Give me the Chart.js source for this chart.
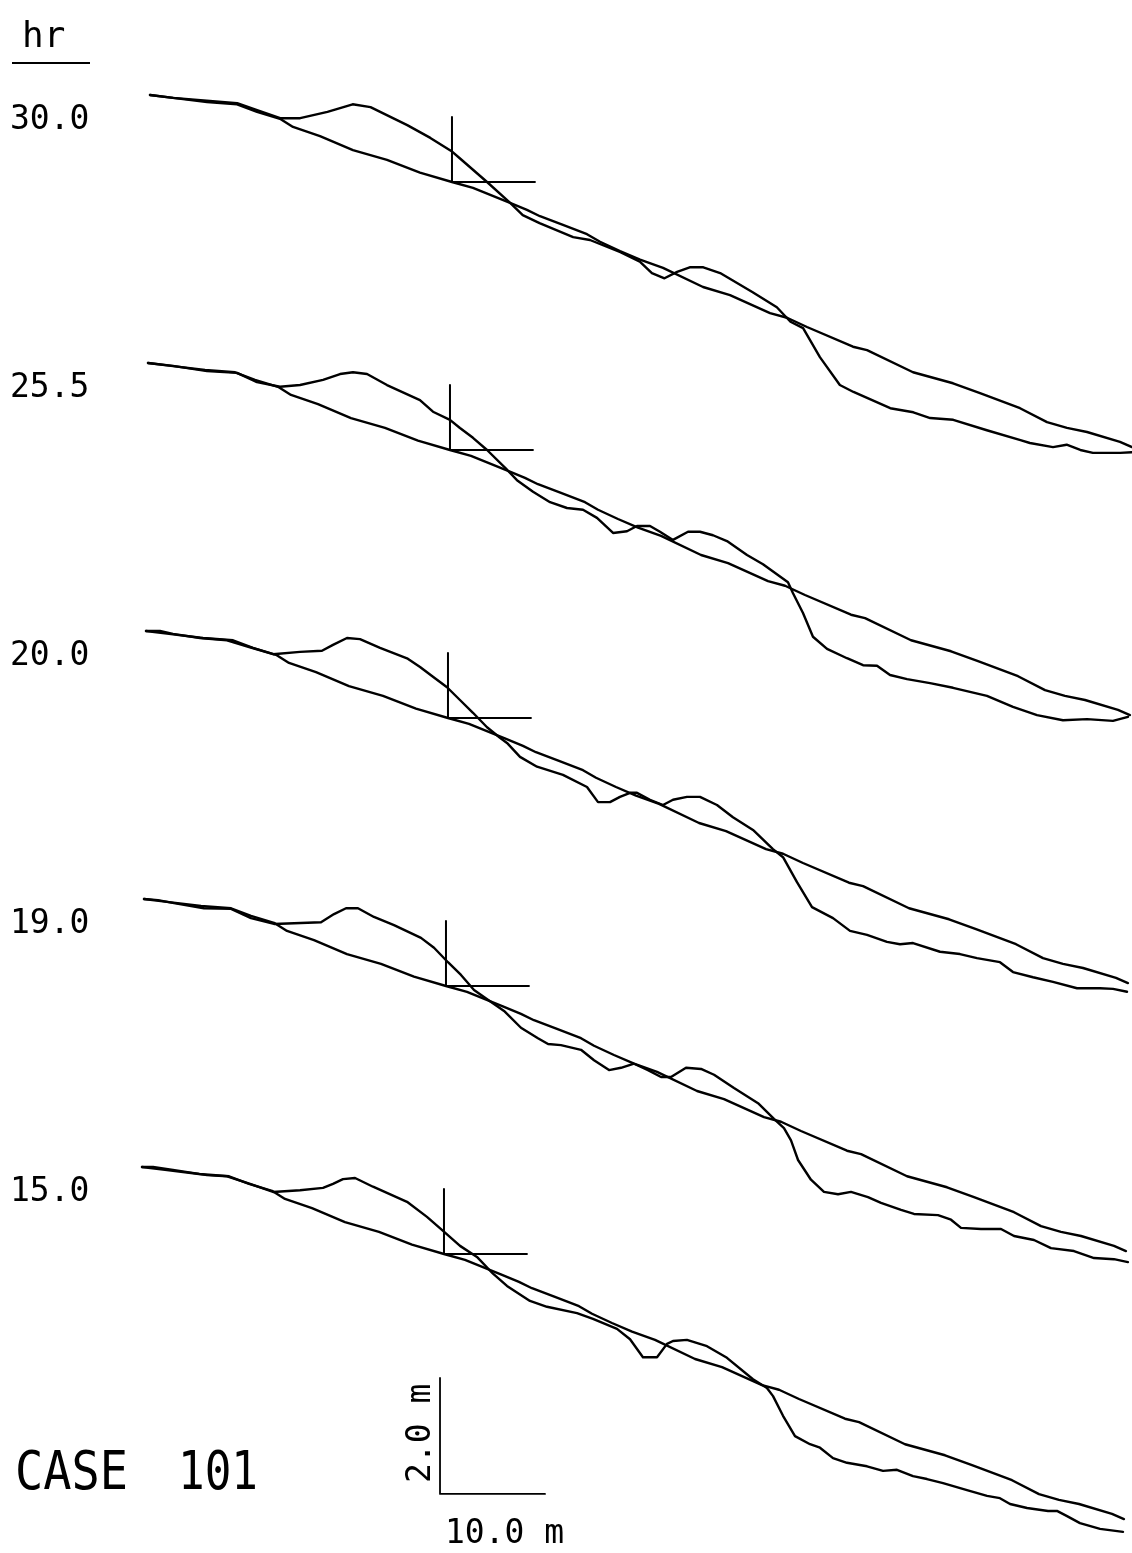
<!DOCTYPE html>
<html>
<head>
<meta charset="utf-8">
<title>CASE 101 profiles</title>
<script src="https://cdn.jsdelivr.net/npm/chart.js@4/dist/chart.umd.min.js"></script>
<style>
  html, body { margin: 0; padding: 0; background: #fff; }
  canvas { display: block; }
</style>
</head>
<body>
<canvas id="profileChart" width="1132" height="1553"></canvas>
<script>
'use strict';

// elapsed time for each plotted profile (top to bottom)
const hours = ['30.0', '25.5', '20.0', '19.0', '15.0'];

// initial beach profile: [distance m, elevation m] relative to landward end
const initialProfile = [
  [0, 0], [2.19, -0.05], [5.43, -0.12], [8.29, -0.16], [10.19, -0.29], [12.38, -0.41],
  [13.62, -0.55], [16.19, -0.71], [19.33, -0.95], [22.57, -1.12], [25.71, -1.34], [28.76, -1.50],
  [30.76, -1.60], [34.29, -1.86], [35.90, -1.98], [37.14, -2.09], [39.33, -2.24], [41.62, -2.40],
  [42.86, -2.53], [44.76, -2.69], [46.67, -2.84], [48.86, -2.98], [52.67, -3.31], [55.24, -3.45],
  [59.05, -3.76], [60.67, -3.84], [62.57, -4.00], [66.95, -4.34], [68.29, -4.40], [72.67, -4.78],
  [76.48, -4.97], [79.05, -5.14], [82.86, -5.40], [85.43, -5.64], [87.33, -5.74], [89.24, -5.81],
  [92.38, -5.98], [93.52, -6.07]
];

// measured profiles
const profile30 = [
  [0, 0], [2.2, -0.05], [5.4, -0.10], [8.3, -0.14], [10.2, -0.26], [12.4, -0.40], [14.3, -0.40],
  [16.9, -0.29], [19.3, -0.16], [21.0, -0.21], [24.5, -0.52], [26.7, -0.74], [28.8, -0.98],
  [29.5, -1.09], [32.1, -1.50], [34.3, -1.86], [35.5, -2.07], [37.1, -2.21], [40.3, -2.45],
  [41.9, -2.50], [44.8, -2.71], [46.7, -2.88], [47.8, -3.07], [49.0, -3.16], [50.2, -3.05],
  [51.4, -2.97], [52.7, -2.97], [54.3, -3.07], [57.4, -3.40], [59.7, -3.66], [61.0, -3.91],
  [62.2, -4.02], [63.8, -4.52], [65.7, -5.00], [67.0, -5.12], [70.5, -5.40], [72.7, -5.47],
  [74.3, -5.57], [76.5, -5.60], [79.7, -5.78], [82.9, -5.95], [83.8, -6.00], [86.0, -6.07],
  [87.3, -6.03], [88.6, -6.12], [89.8, -6.17], [92.4, -6.17], [93.5, -6.16]
];

const profile25 = [
  [0, 0], [2.38, -0.05], [5.62, -0.14], [8.48, -0.17], [10.38, -0.33], [12.57, -0.41], [14.48, -0.38],
  [16.67, -0.29], [18.29, -0.19], [19.52, -0.16], [20.86, -0.19], [22.76, -0.38], [25.90, -0.64],
  [27.14, -0.84], [28.76, -0.98], [29.71, -1.12], [30.95, -1.29], [32.29, -1.50], [34.19, -1.84],
  [35.14, -2.02], [36.67, -2.22], [38.29, -2.40], [39.90, -2.50], [41.43, -2.53], [42.76, -2.67],
  [44.29, -2.93], [45.62, -2.90], [46.57, -2.81], [47.81, -2.81], [48.76, -2.91], [50.00, -3.05],
  [51.43, -2.91], [52.57, -2.91], [53.81, -2.97], [55.14, -3.07], [57.05, -3.31], [58.57, -3.47],
  [60.95, -3.78], [61.43, -3.97], [62.38, -4.31], [63.33, -4.72], [64.67, -4.93], [66.57, -5.09],
  [68.10, -5.21], [69.43, -5.22], [70.67, -5.38], [72.29, -5.45], [74.48, -5.52], [76.67, -5.60],
  [79.90, -5.74], [82.38, -5.93], [84.67, -6.07], [87.14, -6.16], [89.43, -6.14], [91.90, -6.17],
  [93.33, -6.10]
];

const profile20 = [
  [0, 0], [1.33, 0], [2.57, -0.05], [5.14, -0.12], [7.71, -0.16], [9.90, -0.28], [12.10, -0.40],
  [14.67, -0.36], [16.76, -0.34], [17.81, -0.24], [19.14, -0.12], [20.38, -0.14], [22.29, -0.29],
  [24.86, -0.47], [26.10, -0.62], [27.33, -0.79], [28.67, -0.97], [29.90, -1.19], [31.14, -1.41],
  [32.48, -1.66], [33.71, -1.84], [34.38, -1.93], [35.62, -2.17], [37.24, -2.34], [39.71, -2.48],
  [42.00, -2.69], [43.05, -2.95], [44.19, -2.95], [45.14, -2.86], [46.10, -2.79], [46.76, -2.79],
  [48.00, -2.91], [49.24, -3.00], [50.19, -2.91], [51.52, -2.86], [52.76, -2.86], [54.38, -3.00],
  [55.90, -3.21], [57.81, -3.43], [59.71, -3.76], [60.67, -3.90], [62.00, -4.33], [63.43, -4.76],
  [65.43, -4.95], [67.05, -5.17], [68.67, -5.24], [70.57, -5.36], [71.81, -5.40], [73.05, -5.38],
  [75.62, -5.53], [77.52, -5.57], [79.14, -5.64], [81.33, -5.71], [82.57, -5.88], [84.48, -5.97],
  [86.38, -6.05], [88.67, -6.16], [90.86, -6.16], [92.10, -6.17], [93.43, -6.22]
];

const profile19 = [
  [0, 0], [1.33, -0.02], [2.86, -0.07], [5.71, -0.16], [8.29, -0.17], [10.19, -0.33], [12.38, -0.43],
  [16.86, -0.40], [18.10, -0.26], [19.24, -0.16], [20.38, -0.16], [21.90, -0.31], [23.81, -0.45],
  [26.38, -0.67], [27.62, -0.84], [28.95, -1.09], [30.19, -1.31], [31.43, -1.57], [33.33, -1.81],
  [34.29, -1.93], [35.90, -2.22], [37.52, -2.40], [38.48, -2.50], [39.71, -2.52], [41.62, -2.60],
  [42.86, -2.78], [44.29, -2.95], [45.43, -2.91], [46.67, -2.84], [48.00, -2.95], [49.24, -3.07],
  [50.19, -3.07], [51.62, -2.91], [53.05, -2.93], [54.29, -3.03], [56.19, -3.26], [58.48, -3.52],
  [60.00, -3.79], [60.95, -3.95], [61.62, -4.16], [62.29, -4.50], [63.52, -4.84], [64.76, -5.05],
  [66.10, -5.09], [67.33, -5.05], [68.95, -5.14], [70.19, -5.24], [72.10, -5.36], [73.33, -5.43],
  [75.62, -5.45], [76.86, -5.53], [77.81, -5.67], [79.71, -5.69], [81.62, -5.69], [82.86, -5.81],
  [84.76, -5.88], [86.38, -6.02], [88.57, -6.07], [90.48, -6.19], [92.38, -6.21], [93.71, -6.26]
];

const profile15 = [
  [0, 0], [1.05, 0], [2.95, -0.05], [6.19, -0.14], [8.10, -0.16], [10.29, -0.29], [12.48, -0.43],
  [15.05, -0.40], [17.24, -0.36], [18.19, -0.29], [19.14, -0.21], [20.29, -0.19], [22.00, -0.34],
  [25.24, -0.60], [27.14, -0.86], [28.67, -1.10], [30.29, -1.36], [31.90, -1.55], [33.43, -1.84],
  [34.76, -2.05], [36.95, -2.31], [38.57, -2.41], [41.43, -2.52], [42.95, -2.62], [45.24, -2.79],
  [46.48, -2.97], [47.71, -3.28], [49.05, -3.28], [50.00, -3.05], [50.57, -3.00], [51.90, -2.98],
  [53.81, -3.09], [55.71, -3.29], [58.19, -3.66], [59.52, -3.81], [60.10, -3.95], [61.05, -4.29],
  [62.19, -4.64], [63.62, -4.78], [64.57, -4.84], [65.81, -5.02], [67.14, -5.10], [69.05, -5.16],
  [70.57, -5.24], [71.90, -5.22], [73.43, -5.33], [74.76, -5.38], [76.29, -5.45], [78.57, -5.57],
  [80.48, -5.67], [81.71, -5.71], [82.67, -5.81], [84.29, -5.88], [86.29, -5.93], [87.14, -5.93],
  [88.10, -6.02], [89.33, -6.14], [91.24, -6.24], [93.43, -6.29]
];

const measuredProfiles = [profile30, profile25, profile20, profile19, profile15];

// still-water shoreline marker on the initial profile (m)
const shoreX = 28.76;
const shoreZ = -1.50;
const markRise = 1.12;
const markRun = 7.9;

// scale bar lengths (m)
const scaleBarX = 10.0;
const scaleBarZ = 2.0;

// ---- layout (plot units are metres, vertical exaggeration ~5.5x)
const PX_PER_M_X = 10.5;
const PX_PER_M_Z = 58;
const X_MIN = -150 / PX_PER_M_X;
const X_MAX = X_MIN + 1132 / PX_PER_M_X;
const Z_MAX = 95 / PX_PER_M_Z;
const Z_MIN = Z_MAX - 1553 / PX_PER_M_Z;
const STACK_DX = -2 / PX_PER_M_X;
const STACK_DZ = -268 / PX_PER_M_Z;
const BAR_X0 = 27.62;
const BAR_Z0 = -24.12;

const FONT = '"DejaVu Sans Mono", monospace';
const INK = '#000';

function shift(points, dx, dz) {
  return points.map(p => ({ x: p[0] + dx, y: p[1] + dz }));
}

function lineSet(data, width) {
  return {
    data: data,
    showLine: true,
    borderColor: INK,
    borderWidth: width,
    pointRadius: 0,
    pointHoverRadius: 0,
    tension: 0,
    fill: false,
    borderCapStyle: 'round',
    borderJoinStyle: 'round'
  };
}

const datasets = [];
measuredProfiles.forEach((prof, i) => {
  const dx = i * STACK_DX;
  const dz = i * STACK_DZ;
  datasets.push(lineSet(shift(initialProfile, dx, dz), 2.4));
  datasets.push(lineSet(shift(prof, dx, dz), 2.4));
  datasets.push(lineSet(shift([
    [shoreX, shoreZ + markRise], [shoreX, shoreZ], [shoreX + markRun, shoreZ]
  ], dx, dz), 2));
});
datasets.push(lineSet([
  { x: BAR_X0, y: BAR_Z0 + scaleBarZ },
  { x: BAR_X0, y: BAR_Z0 },
  { x: BAR_X0 + scaleBarX, y: BAR_Z0 }
], 1.8));

const textPlugin = {
  id: 'plotText',
  afterDraw(chart) {
    const ctx = chart.ctx;
    const ys = chart.scales.y;
    ctx.save();
    ctx.fillStyle = INK;
    ctx.strokeStyle = INK;
    ctx.textBaseline = 'alphabetic';
    ctx.textAlign = 'left';

    // unit header
    ctx.font = '36px ' + FONT;
    ctx.fillText('hr', 22, 47, 60);
    ctx.lineWidth = 2;
    ctx.beginPath();
    ctx.moveTo(12, 63);
    ctx.lineTo(90, 63);
    ctx.stroke();

    // time labels next to each profile start
    ctx.font = '33px ' + FONT;
    hours.forEach((h, i) => {
      const py = ys.getPixelForValue(i * STACK_DZ);
      ctx.fillText(h, 10, py + 34, 80);
    });

    // scale bar captions
    ctx.fillText('10.0 m', 445, 1543, 120);
    ctx.save();
    ctx.translate(430, 1483);
    ctx.rotate(-Math.PI / 2);
    ctx.fillText('2.0 m', 0, 0, 100);
    ctx.restore();

    // case title
    ctx.font = '54px ' + FONT;
    ctx.fillText('CASE', 15, 1489, 113);
    ctx.fillText('101', 178, 1489, 80);
    ctx.restore();
  }
};

new Chart(document.getElementById('profileChart'), {
  type: 'scatter',
  data: { datasets: datasets },
  options: {
    responsive: false,
    animation: false,
    layout: { padding: 0 },
    plugins: { legend: { display: false }, tooltip: { enabled: false } },
    scales: {
      x: { type: 'linear', min: X_MIN, max: X_MAX, display: false },
      y: { type: 'linear', min: Z_MIN, max: Z_MAX, display: false }
    }
  },
  plugins: [textPlugin]
});
</script>
</body>
</html>
